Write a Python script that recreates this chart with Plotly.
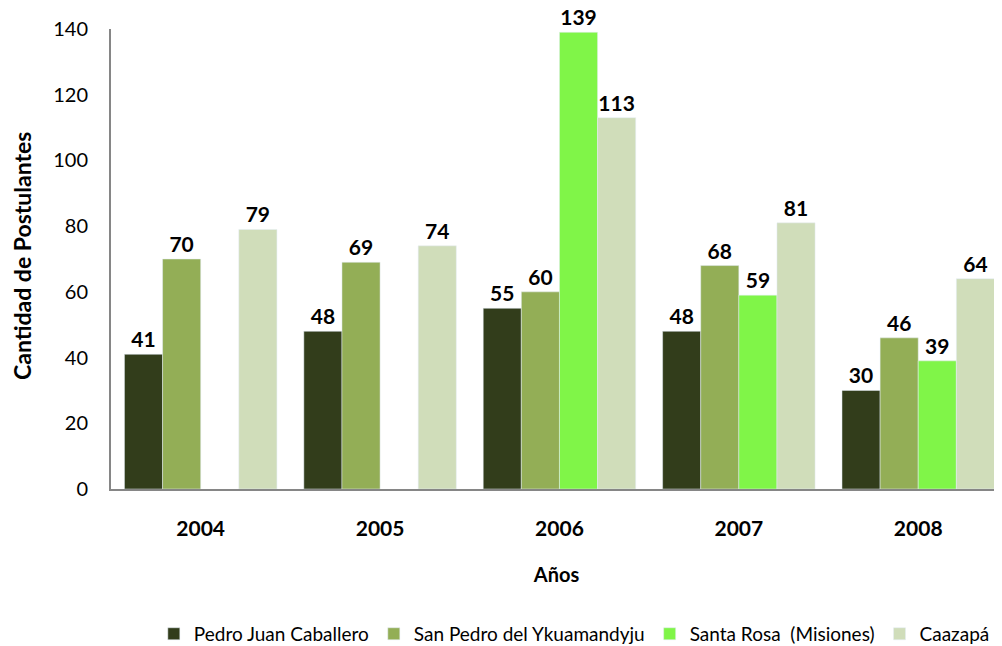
import plotly.graph_objects as go

years = ["2004", "2005", "2006", "2007", "2008"]
pedro_juan = [41, 48, 55, 48, 30]
san_pedro = [70, 69, 60, 68, 46]
santa_rosa = [None, None, 139, 59, 39]
caazapa = [79, 74, 113, 81, 64]

series = [
    ("Pedro Juan Caballero", pedro_juan, "#323D1B"),
    ("San Pedro del Ykuamandyju", san_pedro, "#93AE56"),
    ("Santa Rosa  (Misiones)", santa_rosa, "#80F548"),
    ("Caazapá", caazapa, "#D0DDBA"),
]

font_family = "Lato, 'Open Sans', sans-serif"

fig = go.Figure()
for name, vals, color in series:
    fig.add_trace(go.Bar(
        name=name, x=years, y=vals, marker_color=color,
        text=[("" if v is None else str(v)) for v in vals],
        textposition="outside", cliponaxis=False,
        textfont=dict(family=font_family, size=21, color="black", weight="bold"),
    ))

fig.update_layout(
    width=994, height=638,
    margin=dict(l=103, r=0, t=21, b=157, autoexpand=False),
    paper_bgcolor="white", plot_bgcolor="white",
    barmode="group", bargap=0.15, bargroupgap=0,
    font=dict(family=font_family, size=20, color="black"),
    showlegend=True,
    legend=dict(orientation="h", x=0.52, xanchor="center", y=-0.315, yanchor="middle",
                font=dict(size=19), traceorder="normal", itemwidth=30),
    xaxis=dict(
        type="category", range=[-0.5, 4.467], automargin=False,
        showline=True, linecolor="#868686", linewidth=2,
        ticks="", showgrid=False, ticklabelstandoff=20,
        tickfont=dict(size=21, weight="bold"),
        title=dict(text="Años", font=dict(size=20, weight="bold"), standoff=29),
    ),
    yaxis=dict(
        range=[0, 140], dtick=20, automargin=False,
        showline=True, linecolor="#868686", linewidth=2,
        showgrid=False, zeroline=False, ticks="",
        ticklabelstandoff=17,
        tickfont=dict(size=20),
    ),
    annotations=[dict(
        text="Cantidad de Postulantes", textangle=-90,
        xref="paper", yref="paper", x=-89 / 891, y=0.5065,
        xanchor="center", yanchor="middle", showarrow=False,
        font=dict(size=23, weight="bold", color="black"),
    )],
)

fig.write_html("out.html")
